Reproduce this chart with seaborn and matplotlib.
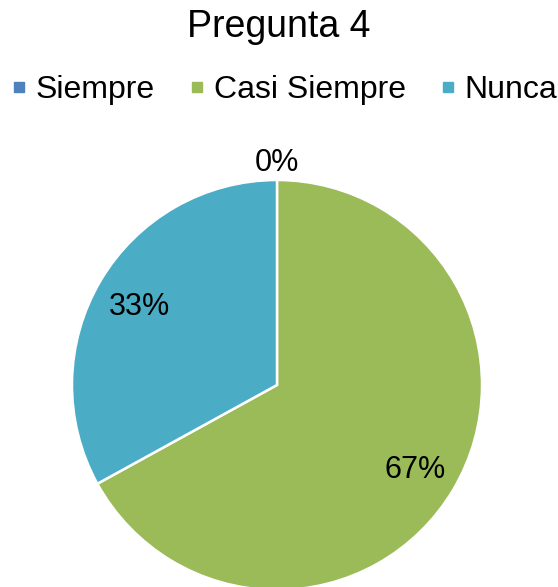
import matplotlib
matplotlib.use("Agg")
import matplotlib.pyplot as plt
from matplotlib.lines import Line2D
import seaborn as sns

# data
categorias = ["Siempre", "Casi Siempre", "Nunca"]
valores = [0, 67, 33]
colores = ["#4F81BD", "#9BBB59", "#4BACC6"]

sns.set_theme(style="white")
plt.rcParams["font.family"] = ["Liberation Sans", "DejaVu Sans"]

fig = plt.figure(figsize=(5.58, 5.87), dpi=100)
ax = fig.add_axes([72 / 558, -3 / 587, 410 / 558, 410 / 587])

wedges, textos, pcts = ax.pie(
    valores,
    colors=colores,
    startangle=90,
    counterclock=False,
    autopct="%1.0f%%",
    pctdistance=0.78,
    wedgeprops=dict(edgecolor="white", linewidth=1.8),
    textprops=dict(fontsize=22, color="black"),
)
# the empty slice gets its label outside the pie
for v, t in zip(valores, pcts):
    t.set_verticalalignment("center_baseline")
    if v == 0:
        x, y = t.get_position()
        t.set_position((x, 1.1))
ax.set_xlim(-1, 1)
ax.set_ylim(-1, 1)
ax.set_aspect("auto")

fig.suptitle("Pregunta 4", fontsize=27, y=0.985, color="black")

handles = [
    Line2D([], [], marker="s", linestyle="", markersize=7.5, color=c, label=l)
    for c, l in zip(colores, categorias)
]
leg = fig.legend(
    handles=handles,
    loc="center",
    bbox_to_anchor=(0.51, 1 - 90 / 587),
    ncol=3,
    frameon=False,
    fontsize=23,
    handletextpad=0.3,
    columnspacing=1.1,
    handlelength=0.45,
)
for t in leg.get_texts():
    t.set_color("black")

fig.savefig("out.png", dpi=100)
